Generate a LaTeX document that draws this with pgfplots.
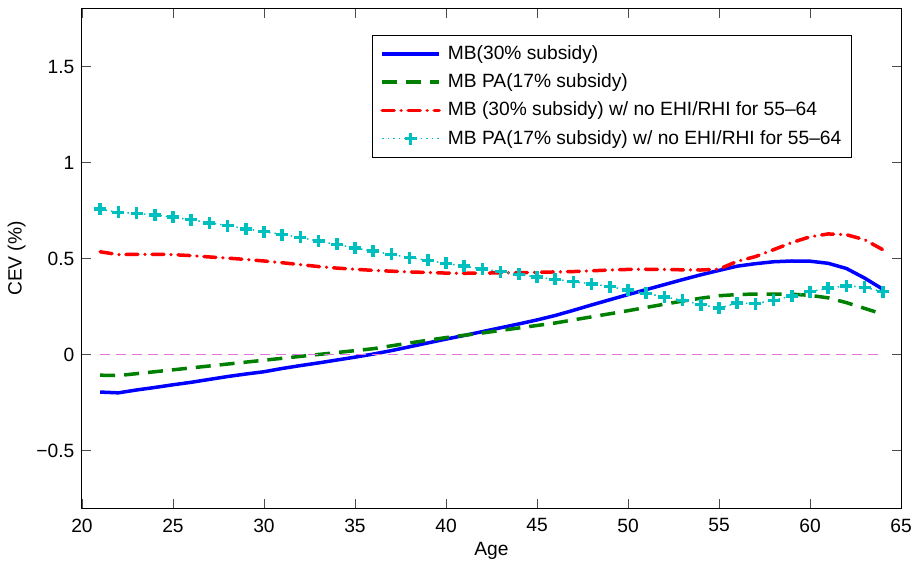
\documentclass[border=0pt]{standalone}
\usepackage{fontspec}
\setmainfont{Liberation Sans}
\usepackage{pgfplots}
\pgfplotsset{compat=1.18}
\usetikzlibrary{calc}
\definecolor{mbblue}{RGB}{0,0,255}
\definecolor{mbgreen}{RGB}{0,128,0}
\definecolor{mbred}{RGB}{255,0,0}
\definecolor{mbcyan}{RGB}{0,191,191}
\definecolor{zeroline}{RGB}{220,118,220}
\begin{document}
\fontsize{19.2}{23}\selectfont
\begin{tikzpicture}
\begin{axis}[
  width=819pt, height=499pt, scale only axis,
  xmin=20, xmax=65, ymin=-0.8, ymax=1.8,
  xtick={20,25,...,65},
  ytick={-0.5,0,0.5,1,1.5},
  yticklabels={−0.5,0,0.5,1,1.5},
  /pgf/number format/assume math mode=true,
  tick align=inside,
  major tick length=9pt,
  tick style={black!70, line width=0.8pt},
  axis line style={black, line width=1pt},
  xlabel={Age}, ylabel={CEV (\%)},
  xlabel style={yshift=3pt},
  ylabel style={yshift=-2pt},
  xticklabel style={yshift=-4pt},
  yticklabel style={xshift=-1pt},
  tick label style={font=\fontsize{19.2}{23}\selectfont},
  label style={font=\fontsize{19.2}{23}\selectfont},
  legend style={at={(0.354,0.948)}, anchor=north west, draw=black, line width=1pt,
    font=\fontsize{19.2}{23}\selectfont, row sep=7.5pt, inner xsep=8pt, inner ysep=8pt,
    cells={anchor=west}},
  legend image code/.code={\draw[mark repeat=2,mark phase=2] plot coordinates {(0pt,0pt)(28.5pt,0pt)(57pt,0pt)};
    \path (62pt,0pt);},
]
\addplot[mbblue, line width=3.5pt] coordinates {
(21,-0.196)(22,-0.200)(23,-0.185)(24,-0.172)(25,-0.158)(26,-0.145)(27,-0.130)(28,-0.115)(29,-0.102)(30,-0.090)
(31,-0.073)(32,-0.058)(33,-0.044)(34,-0.029)(35,-0.014)(36,0.002)(37,0.020)(38,0.040)(39,0.060)(40,0.080)
(41,0.099)(42,0.119)(43,0.139)(44,0.159)(45,0.180)(46,0.203)(47,0.230)(48,0.258)(49,0.285)(50,0.312)
(51,0.338)(52,0.364)(53,0.390)(54,0.415)(55,0.438)(56,0.460)(57,0.473)(58,0.483)(59,0.487)(60,0.486)
(61,0.475)(62,0.448)(63,0.398)(64,0.340)};
\addlegendentry{MB(30\% subsidy)}
\addplot[mbgreen, line width=3.5pt, dash pattern=on 15pt off 9pt] coordinates {
(21,-0.108)(22,-0.110)(23,-0.100)(24,-0.090)(25,-0.080)(26,-0.070)(27,-0.060)(28,-0.050)(29,-0.040)(30,-0.030)
(31,-0.020)(32,-0.010)(33,0.000)(34,0.010)(35,0.020)(36,0.030)(37,0.045)(38,0.060)(39,0.074)(40,0.088)
(41,0.100)(42,0.112)(43,0.125)(44,0.138)(45,0.151)(46,0.164)(47,0.180)(48,0.196)(49,0.212)(50,0.228)
(51,0.245)(52,0.262)(53,0.278)(54,0.293)(55,0.306)(56,0.312)(57,0.315)(58,0.315)(59,0.314)(60,0.308)
(61,0.295)(62,0.270)(63,0.240)(64,0.210)};
\addlegendentry{MB PA(17\% subsidy)}
\addplot[mbred, line width=3.5pt, line cap=round, dash pattern=on 12pt off 7pt on 0.01pt off 7pt] coordinates {
(21,0.535)(22,0.520)(23,0.522)(24,0.522)(25,0.520)(26,0.515)(27,0.508)(28,0.502)(29,0.495)(30,0.487)
(31,0.478)(32,0.468)(33,0.458)(34,0.450)(35,0.444)(36,0.438)(37,0.434)(38,0.430)(39,0.427)(40,0.424)
(41,0.423)(42,0.424)(43,0.425)(44,0.426)(45,0.428)(46,0.430)(47,0.432)(48,0.436)(49,0.440)(50,0.443)
(51,0.444)(52,0.443)(53,0.441)(54,0.440)(55,0.445)(56,0.485)(57,0.510)(58,0.546)(59,0.583)(60,0.613)
(61,0.628)(62,0.624)(63,0.598)(64,0.546)};
\addlegendentry{MB (30\% subsidy) w/ no EHI/RHI for 55–64}
\addplot[mbcyan, line width=1.5pt, dash pattern=on 1.5pt off 4pt, mark=+, mark size=6pt,
  mark options={solid, line width=3.5pt}] coordinates {
(21,0.757)(22,0.740)(23,0.735)(24,0.727)(25,0.715)(26,0.702)(27,0.686)(28,0.671)(29,0.655)(30,0.640)
(31,0.625)(32,0.610)(33,0.590)(34,0.573)(35,0.555)(36,0.538)(37,0.521)(38,0.505)(39,0.490)(40,0.475)
(41,0.460)(42,0.446)(43,0.431)(44,0.417)(45,0.403)(46,0.391)(47,0.379)(48,0.368)(49,0.353)(50,0.336)
(51,0.318)(52,0.300)(53,0.282)(54,0.260)(55,0.242)(56,0.267)(57,0.265)(58,0.282)(59,0.305)(60,0.327)
(61,0.345)(62,0.358)(63,0.350)(64,0.327)};
\addlegendentry{MB PA(17\% subsidy) w/ no EHI/RHI for 55–64}
\addplot[zeroline, line width=1.3pt, dash pattern=on 10pt off 6pt, forget plot] coordinates {(21,0)(64,0)};
\end{axis}
\pgfresetboundingbox
\path[use as bounding box] ($(current axis.south west)+(-82pt,-54pt)$) rectangle ($(current axis.north east)+(11pt,9pt)$);
\end{tikzpicture}
\end{document}
